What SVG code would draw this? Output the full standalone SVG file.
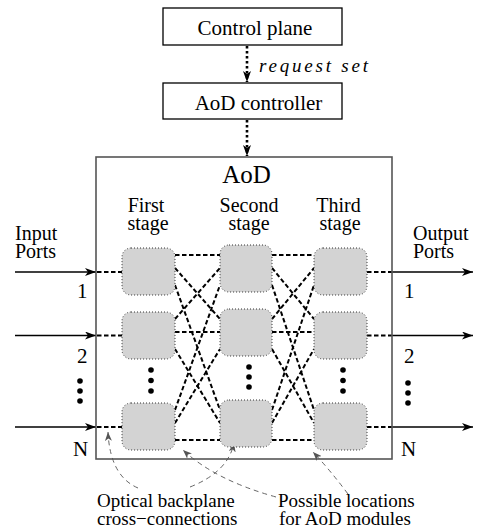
<svg xmlns="http://www.w3.org/2000/svg" width="478" height="531" viewBox="0 0 478 531">
<defs>
<marker id="arr" markerUnits="userSpaceOnUse" markerWidth="12" markerHeight="8" refX="11" refY="4" orient="auto">
<path d="M0,0 L11,4 L0,8 L3,4 z" fill="#000"/>
</marker>
<marker id="garr" markerUnits="userSpaceOnUse" markerWidth="10" markerHeight="7" refX="9" refY="3.5" orient="auto">
<path d="M0,0 L9,3.5 L0,7 L2.5,3.5 z" fill="#555"/>
</marker>
<style>
.t21{font-size:21px}
.t20{font-size:20px}
.t19{font-size:19px}
.box{fill:#fff;stroke:#000;stroke-width:1.3}
.mod{fill:#d3d3d3;stroke:#333;stroke-width:1;stroke-dasharray:1 2}
.dash{fill:none;stroke:#000;stroke-width:2;stroke-dasharray:4.5 2.5}
.dot{fill:none;stroke:#000;stroke-width:2.6;stroke-dasharray:2.6 2.4}
.solid{fill:none;stroke:#000;stroke-width:1.3}
.ann{fill:none;stroke:#666;stroke-width:1;stroke-dasharray:5 4}
</style>
</defs>
<rect width="478" height="531" fill="#fff"/>

<g id="connectors">
<line class="dot" x1="247" y1="46" x2="247" y2="82" marker-end="url(#arr)"/>
<line class="dot" x1="247" y1="120" x2="247" y2="156" marker-end="url(#arr)"/>
<line class="solid" x1="15" y1="272" x2="96" y2="272" marker-end="url(#arr)"/>
<line class="solid" x1="15" y1="335.5" x2="96" y2="335.5" marker-end="url(#arr)"/>
<line class="solid" x1="15" y1="427" x2="96" y2="427" marker-end="url(#arr)"/>
<line class="solid" x1="392" y1="272" x2="473" y2="272" marker-end="url(#arr)"/>
<line class="solid" x1="392" y1="335.5" x2="473" y2="335.5" marker-end="url(#arr)"/>
<line class="solid" x1="392" y1="427" x2="473" y2="427" marker-end="url(#arr)"/>
<line class="dash" x1="97" y1="272" x2="122" y2="272"/>
<line class="dash" x1="97" y1="335.5" x2="122" y2="335.5"/>
<line class="dash" x1="97" y1="427" x2="122" y2="427"/>
<line class="dash" x1="367" y1="272" x2="392" y2="272"/>
<line class="dash" x1="367" y1="335.5" x2="392" y2="335.5"/>
<line class="dash" x1="367" y1="427" x2="392" y2="427"/>
<line class="dash" x1="175" y1="255" x2="220" y2="255"/>
<line class="dash" x1="175" y1="268" x2="220" y2="319"/>
<line class="dash" x1="175" y1="285" x2="220" y2="410"/>
<line class="dash" x1="175" y1="319" x2="220" y2="268"/>
<line class="dash" x1="175" y1="332" x2="220" y2="332"/>
<line class="dash" x1="175" y1="349" x2="220" y2="423"/>
<line class="dash" x1="175" y1="410" x2="220" y2="285"/>
<line class="dash" x1="175" y1="423" x2="220" y2="349"/>
<line class="dash" x1="175" y1="440" x2="220" y2="440"/>
<line class="dash" x1="272" y1="255" x2="314" y2="255"/>
<line class="dash" x1="272" y1="268" x2="314" y2="319"/>
<line class="dash" x1="272" y1="285" x2="314" y2="410"/>
<line class="dash" x1="272" y1="319" x2="314" y2="268"/>
<line class="dash" x1="272" y1="332" x2="314" y2="332"/>
<line class="dash" x1="272" y1="349" x2="314" y2="423"/>
<line class="dash" x1="272" y1="410" x2="314" y2="285"/>
<line class="dash" x1="272" y1="423" x2="314" y2="349"/>
<line class="dash" x1="272" y1="440" x2="314" y2="440"/>
<path class="ann" d="M138,488 Q110,476 108,432" marker-end="url(#garr)"/>
<path class="ann" d="M190,487 Q228,472 234,443" marker-end="url(#garr)"/>
<path class="ann" d="M276,497 Q215,480 183,450" marker-end="url(#garr)"/>
<path class="ann" d="M348,494 Q330,470 313,452" marker-end="url(#garr)"/>
</g>

<g font-family="Liberation Serif, Times New Roman, Times, Nimbus Roman, FreeSerif, Noto Serif, DejaVu Serif, serif" fill="#000">
<g id="control-plane">
<rect class="box" x="163" y="8" width="179" height="37"/>
<text class="t21" x="255" y="35" text-anchor="middle">Control plane</text>
</g>
<text id="request-set" x="259" y="72" font-size="19" font-style="italic" textLength="109" lengthAdjust="spacing">request set</text>
<g id="aod-controller">
<rect class="box" x="163" y="83" width="179" height="36"/>
<text class="t21" x="258.5" y="110" text-anchor="middle">AoD controller</text>
</g>

<g id="aod">
<rect x="96" y="157" width="296" height="302" fill="none" stroke="#555" stroke-width="1.6"/>
<text x="246.5" y="183" font-size="25" text-anchor="middle">AoD</text>
</g>

<g id="labels">
<text class="t20" x="146" y="212" text-anchor="middle">First</text>
<text class="t20" x="148" y="230" text-anchor="middle">stage</text>
<text class="t20" x="249" y="212" text-anchor="middle">Second</text>
<text class="t20" x="249" y="230" text-anchor="middle">stage</text>
<text class="t20" x="338.5" y="212" text-anchor="middle">Third</text>
<text class="t20" x="340" y="230" text-anchor="middle">stage</text>
<text class="t20" x="15" y="240">Input</text>
<text class="t20" x="15" y="258">Ports</text>
<text class="t20" x="413" y="240">Output</text>
<text class="t20" x="413" y="258">Ports</text>
<text class="t21" x="77" y="298">1</text>
<text class="t21" x="77" y="363">2</text>
<text class="t21" x="73" y="456">N</text>
<text class="t21" x="404" y="298">1</text>
<text class="t21" x="404" y="363">2</text>
<text class="t21" x="401" y="456">N</text>
<circle cx="80" cy="381" r="2.8"/><circle cx="80" cy="391" r="2.8"/><circle cx="80" cy="401" r="2.8"/>
<circle cx="408" cy="383" r="2.8"/><circle cx="408" cy="393" r="2.8"/><circle cx="408" cy="403" r="2.8"/>
<circle cx="151" cy="370" r="2.8"/><circle cx="151" cy="380.5" r="2.8"/><circle cx="151" cy="391" r="2.8"/>
<circle cx="249" cy="367" r="2.8"/><circle cx="249" cy="377" r="2.8"/><circle cx="249" cy="387" r="2.8"/>
<circle cx="343" cy="370" r="2.8"/><circle cx="343" cy="380.5" r="2.8"/><circle cx="343" cy="391" r="2.8"/>
</g>

<g id="first-stage">
<rect class="mod" x="122" y="248" width="53" height="47" rx="9"/>
<rect class="mod" x="122" y="312" width="53" height="47" rx="9"/>
<rect class="mod" x="122" y="403" width="53" height="47" rx="9"/>
</g>
<g id="second-stage">
<rect class="mod" x="220" y="245" width="52" height="47" rx="9"/>
<rect class="mod" x="220" y="309" width="52" height="47" rx="9"/>
<rect class="mod" x="220" y="400" width="52" height="47" rx="9"/>
</g>
<g id="third-stage">
<rect class="mod" x="314" y="248" width="53" height="47" rx="9"/>
<rect class="mod" x="314" y="312" width="53" height="47" rx="9"/>
<rect class="mod" x="314" y="403" width="53" height="47" rx="9"/>
</g>

<g id="note-backplane">
<text class="t19" x="97" y="507">Optical backplane</text>
<text class="t19" x="97" y="525">cross−connections</text>
</g>
<g id="note-modules">
<text class="t19" x="278" y="507">Possible locations</text>
<text class="t19" x="279" y="525">for AoD modules</text>
</g>
</g>
</svg>
